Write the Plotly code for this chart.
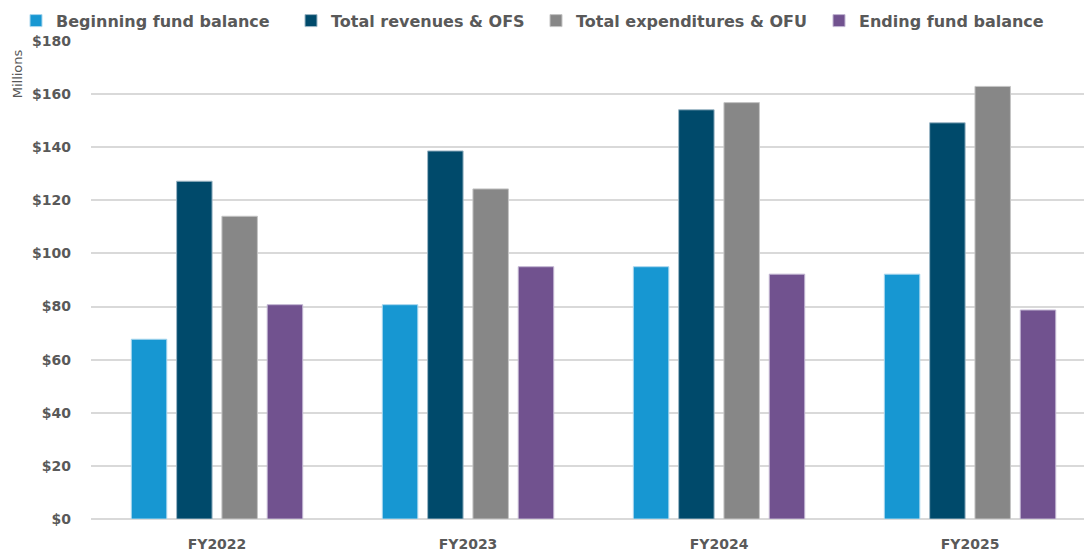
import plotly.graph_objects as go

categories = ["FY2022", "FY2023", "FY2024", "FY2025"]
beginning = [67.7, 80.7, 95.0, 92.2]
revenues = [127.2, 138.6, 154.1, 149.2]
expenditures = [114.0, 124.3, 156.8, 162.9]
ending = [80.7, 95.0, 92.2, 78.7]

series_names = ["Beginning fund balance", "Total revenues & OFS",
                "Total expenditures & OFU", "Ending fund balance"]
colors = ["#1797D2", "#004A6B", "#878787", "#71528F"]
line_colors = ["#A9D7EE", "#9DB7C6", "#C4C4C4", "#C2B6D2"]
legend_ids = ["legend", "legend2", "legend3", "legend4"]
legend_text_px = [57, 332, 577, 860]   # where each legend entry's text starts (px)

font_family = "'DejaVu Sans', sans-serif"
W, H = 1084, 552
L, R, T, B = 91, 0, 41, 33
plot_w = W - L - R
plot_h = H - T - B

fig = go.Figure()
for name, vals, c, lc, lid in zip(series_names, [beginning, revenues, expenditures, ending],
                                  colors, line_colors, legend_ids):
    fig.add_trace(go.Bar(
        x=categories, y=vals, name=name, legend=lid,
        marker=dict(color=c, line=dict(color=lc, width=1)),
    ))

legend_common = dict(orientation="h", xanchor="left", yanchor="middle",
                     y=(H - B - 20.7) / plot_h,
                     font=dict(size=16, color="#595959", family=font_family, weight="bold"),
                     itemwidth=30, bgcolor="rgba(0,0,0,0)", borderwidth=0)
legends = {}
for lid, tx in zip(legend_ids, legend_text_px):
    legends[lid] = dict(legend_common, x=(tx - 41 - L) / plot_w)

fig.update_layout(
    width=W, height=H,
    margin=dict(l=L, r=R, t=T, b=B, autoexpand=False),
    paper_bgcolor="white", plot_bgcolor="white",
    barmode="group", bargap=0.278, bargroupgap=0.217,
    font=dict(family=font_family, color="#595959"),
    showlegend=True,
    xaxis=dict(range=[-0.502, 3.454], showgrid=False, showline=False, ticks="",
               ticklabelstandoff=15,
               tickfont=dict(size=14, color="#595959", family=font_family, weight="bold")),
    yaxis=dict(range=[0, 180], dtick=20, tickprefix="$", showgrid=True,
               gridcolor="#D9D9D9", gridwidth=1.5, zeroline=True, zerolinecolor="#D9D9D9",
               zerolinewidth=1.5, showline=False, ticks="", ticklabelstandoff=19,
               tickfont=dict(size=14, color="#595959", family=font_family, weight="bold")),
    annotations=[dict(text="Millions", textangle=-90,
                      x=(17.3 - L) / plot_w, y=(H - B - 74) / plot_h,
                      xref="paper", yref="paper", xanchor="center", yanchor="middle",
                      showarrow=False,
                      font=dict(size=13, color="#595959", family=font_family))],
    **legends,
)

fig.write_html("out.html", config={"displayModeBar": False},
               post_script="document.body.style.margin='0';document.body.style.overflow='hidden';")
